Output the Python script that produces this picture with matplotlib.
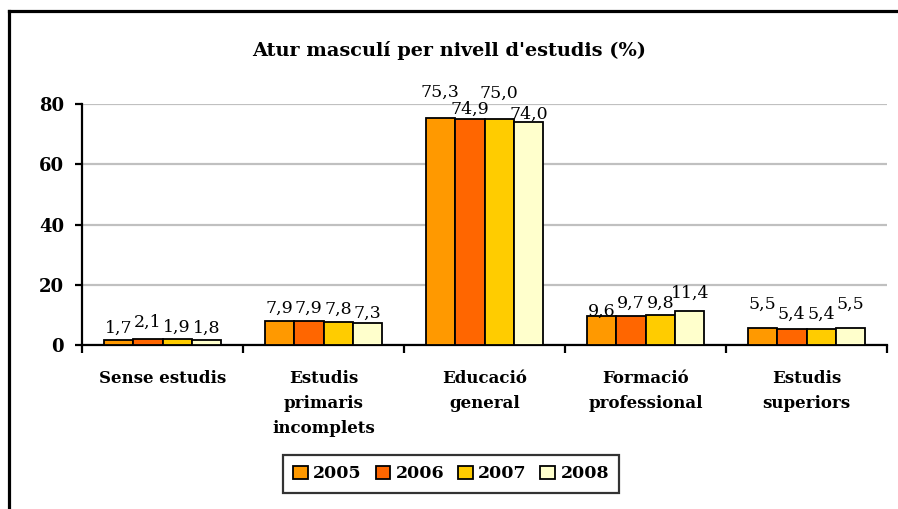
import numpy as np
import matplotlib
matplotlib.use("Agg")
import matplotlib.pyplot as plt
from matplotlib.lines import Line2D

plt.rcParams['font.family'] = ['DejaVu Serif']

categories = ['Sense estudis', 'Estudis\nprimaris\nincomplets', 'Educació\ngeneral',
              'Formació\nprofessional', 'Estudis\nsuperiors']
years = ['2005', '2006', '2007', '2008']
v2005 = [1.7, 7.9, 75.3, 9.6, 5.5]
v2006 = [2.1, 7.9, 74.9, 9.7, 5.4]
v2007 = [1.9, 7.8, 75.0, 9.8, 5.4]
v2008 = [1.8, 7.3, 74.0, 11.4, 5.5]
series = [v2005, v2006, v2007, v2008]
colors = ['#FF9900', '#FF6600', '#FFCC00', '#FFFFCC']
yticks = [0, 20, 40, 60, 80]

# vertical offset (px) of each value label above its bar, staggered like the original
label_gap = [[7, 8, 21, 0, 20],
             [12, 8, 6, 8, 10],
             [7, 8, 21, 8, 10],
             [7, 5, 3, 13, 20]]

fig = plt.figure(figsize=(8.98, 5.09), dpi=100)
ax = fig.add_axes([82 / 898, 1 - 345 / 509, (887 - 82) / 898, (345 - 104) / 509])

x = np.arange(len(categories))
w = 0.183
for i, (vals, col, yr) in enumerate(zip(series, colors, years)):
    xs = x + (i - 1.5) * w
    ax.bar(xs, vals, w, color=col, edgecolor='black', linewidth=1.3, label=yr, zorder=3)
    for xi, v, g in zip(xs, vals, label_gap[i]):
        ax.annotate(f'{v:.1f}'.replace('.', ','), (xi, v), xytext=(0, g * 0.72),
                    textcoords='offset points', ha='center', va='baseline', fontsize=12.5)

ax.set_xlim(-0.5, len(categories) - 0.5)
ax.set_ylim(0, 80)
ax.set_yticks(yticks)
ax.yaxis.grid(True, color='#C0C0C0', linewidth=1.6, zorder=0)
ax.set_axisbelow(True)
for s in ['top', 'right']:
    ax.spines[s].set_visible(False)
for s in ['left', 'bottom']:
    ax.spines[s].set_linewidth(1.6)

ax.set_xticks(x)
ax.set_xticklabels(categories, fontsize=12, fontweight='bold', linespacing=1.6, va='top')
ax.tick_params(axis='x', which='major', length=0, pad=18)
ax.set_xticks(np.arange(-0.5, len(categories)), minor=True)
ax.tick_params(axis='x', which='minor', length=6, width=1.6, direction='out')
ax.tick_params(axis='y', length=5, width=1.6, labelsize=13, pad=8)
for lbl in ax.get_yticklabels():
    lbl.set_fontweight('bold')

fig.text(0.5, 1 - 50 / 509, "Atur masculí per nivell d'estudis (%)", ha='center', va='center',
         fontsize=13.9, fontweight='bold')

leg = fig.legend(loc='center', bbox_to_anchor=(451 / 898, 1 - 474 / 509), ncol=4,
                 frameon=True, fancybox=False, edgecolor='black', handlelength=0.85,
                 handleheight=0.85, handletextpad=0.3, columnspacing=0.8,
                 prop={'weight': 'bold', 'size': 12.5}, borderpad=0.6, borderaxespad=0)
leg.get_frame().set_linewidth(1.6)
for h in leg.legend_handles:
    h.set_linewidth(1.3)

# outer chart frame: only the top and left edges are visible in the original
fx, fy = 8.5 / 898, 1 - 11 / 509
fig.add_artist(Line2D([fx, 1.01], [fy, fy], transform=fig.transFigure, color='black',
                      linewidth=2.3, solid_capstyle='projecting'))
fig.add_artist(Line2D([fx, fx], [fy, -0.01], transform=fig.transFigure, color='black',
                      linewidth=2.3, solid_capstyle='projecting'))

fig.savefig('out.png', dpi=100)
